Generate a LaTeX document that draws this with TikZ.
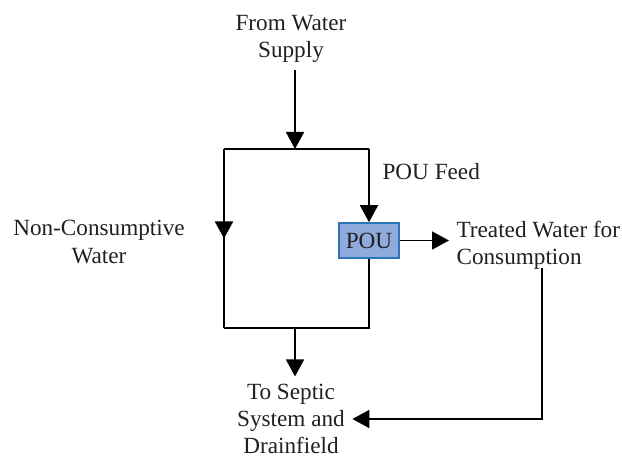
\documentclass[tikz,border=0pt]{standalone}
\usepackage{fontspec}
\setmainfont{Liberation Serif}
\usepackage{tikz}
\usetikzlibrary{positioning,arrows.meta}
\usetikzlibrary{decorations,decorations.markings}

\definecolor{pouFill}{HTML}{8FAADC}
\definecolor{pouLine}{HTML}{2E75B6}
\definecolor{ink}{HTML}{231F20}

\begin{document}
\begin{tikzpicture}[x=0.5pt,y=-0.5pt,
    line width=0.9pt,
    font=\fontsize{11.6}{13.6}\selectfont,
    label/.style={text=ink, align=center},
    flow/.style={-{Triangle[width=9pt,length=8.5pt]}},
    midflow/.style={decoration={markings,
        mark=at position 0.5 with {\arrow{Triangle[width=9pt,length=8.5pt]}}},
      postaction={decorate}},
    pou/.style={draw=pouLine, fill=pouFill, line width=0.8pt, text=ink,
      minimum width=30pt, minimum height=17.5pt, inner sep=0pt}]
  \useasboundingbox (0,0) rectangle (622,458);
  % loop corners
  \coordinate (tl) at (224,149);
  \coordinate (tr) at (369,149);
  \coordinate (bl) at (224,328);
  \coordinate (br) at (369,328);
  \coordinate (top) at (295,149);
  \coordinate (bot) at (295,328);
  \node[pou] (pou) at (369,240.5) {POU};
  % texts
  \node[label] (supply) at (291,39) {From Water\\Supply};
  \node[label, anchor=base west] (feed) at (375,180) {POU Feed};
  \node[label] (noncons) at (99,242) {Non-Consumptive\\Water};
  \node[label, align=left, anchor=west] (treated) at (449,245) {Treated Water for\\Consumption};
  \node[label] (septic) at (291,419) {To Septic\\System and\\Drainfield};
  \coordinate (tap) at (542,268);
  \coordinate (drop) at (542,419);
  % flows
  \draw[flow] (supply.south -| top) -- (top);
  \draw (tr) -- (tl);
  \draw[midflow] (tl) -- (bl);
  \draw (bl) -- (br) -- (pou.south);
  \draw[flow] (tr) -- (pou.north);
  \draw[flow] (pou.east) -- (pou.east -| treated.west);
  \draw[flow] (bot) -- (bot |- septic.north);
  \draw[flow] (tap) -- (drop) -- (drop -| septic.east);
\end{tikzpicture}
\end{document}
